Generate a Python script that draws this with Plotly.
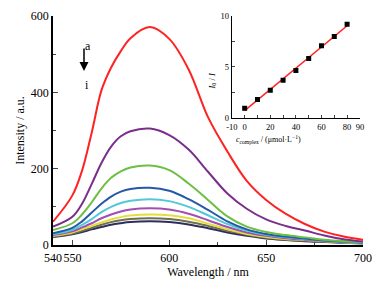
import plotly.graph_objects as go
import numpy as np

wavelength = [540, 550, 555, 560, 565, 570, 575, 580, 590, 600, 610, 620, 630, 640, 650, 660, 670, 680, 690, 700]
curve_a = [61, 130, 195, 295, 405, 465, 508, 542, 571, 540, 460, 335, 245, 168, 118, 82, 55, 35, 22, 14]
curve_b = [48, 74, 108, 160, 215, 258, 285, 298, 305, 288, 250, 192, 135, 95, 67, 50, 38, 25, 15, 9]
curve_c = [39, 57, 80, 112, 148, 176, 193, 203, 208, 196, 161, 118, 75, 48, 34, 26, 20, 14, 10, 7]
curve_d = [31, 45, 62, 85, 108, 127, 140, 147, 150, 142, 120, 92, 62, 41, 29, 22, 17, 12, 9, 6]
curve_e = [28, 40, 53, 68, 86, 100, 110, 116, 120, 115, 100, 78, 55, 38, 27, 20, 16, 12, 8, 6]
curve_f = [26, 36, 46, 57, 70, 80, 88, 93, 96, 93, 82, 65, 47, 33, 24, 18, 14, 11, 8, 6]
curve_g = [24, 33, 41, 50, 59, 67, 73, 77, 80, 78, 70, 56, 41, 29, 21, 16, 13, 10, 7, 5]
curve_h = [22, 30, 37, 45, 53, 60, 65, 68, 70, 68, 61, 50, 37, 27, 19, 14, 11, 9, 6, 5]
curve_i = [21, 28, 34, 41, 47, 53, 57, 60, 62, 60, 54, 44, 33, 24, 17, 13, 10, 8, 6, 4]
curve_colors = ["#FF2222", "#7A2E8C", "#6CBF45", "#2559A8", "#52C8D8",
                "#A24FB2", "#E4DE3C", "#6E6E50", "#2E2E5E"]

conc = [0, 10, 20, 30, 40, 50, 60, 70, 80]
ratio = [0.94, 1.81, 2.72, 3.69, 4.66, 5.83, 7.09, 8.0, 9.19]

x_ticks = [540, 550, 600, 650, 700]
y_ticks = [0, 200, 400, 600]
inset_x_ticks = [-10, 0, 20, 40, 60, 80, 90]
inset_y_ticks = [0, 5, 10]

FONT = "Liberation Serif"
fig = go.Figure()

curves = [curve_a, curve_b, curve_c, curve_d, curve_e, curve_f, curve_g, curve_h, curve_i]
for ys, col in reversed(list(zip(curves, curve_colors))):
    fig.add_trace(go.Scatter(x=wavelength, y=ys, mode="lines",
                             line=dict(color=col, width=2, shape="spline", smoothing=1.0),
                             showlegend=False, xaxis="x", yaxis="y"))

slope, icpt = np.polyfit(conc, ratio, 1)
fit_x = [conc[0], conc[-1]]
fit_y = [slope * v + icpt for v in fit_x]
fig.add_trace(go.Scatter(x=fit_x, y=fit_y, mode="lines", line=dict(color="#FF2222", width=1.5),
                         showlegend=False, xaxis="x2", yaxis="y2"))
fig.add_trace(go.Scatter(x=conc, y=ratio, mode="markers",
                         marker=dict(symbol="square", size=5, color="black"),
                         showlegend=False, xaxis="x2", yaxis="y2"))

fig.update_layout(
    width=385, height=288,
    margin=dict(l=53, r=22, t=16, b=43, autoexpand=False),
    paper_bgcolor="white", plot_bgcolor="white",
    font=dict(family=FONT, color="black", size=12),
    xaxis=dict(range=[540, 700], tickvals=x_ticks, tickangle=0, ticks="inside", ticklen=5, tickwidth=1.2,
               showline=True, linecolor="black", linewidth=1.5, showgrid=False, zeroline=False,
               automargin=False, ticklabelstandoff=1,
               minor=dict(tickvals=[575, 625, 675], ticks="inside", ticklen=3, tickwidth=1.2),
               tickfont=dict(size=12),
               title=dict(text="Wavelength / nm", font=dict(size=12), standoff=2)),
    yaxis=dict(range=[0, 600], tickvals=y_ticks, ticks="inside", ticklen=5, tickwidth=1.2,
               showline=True, linecolor="black", linewidth=1.5, showgrid=False, zeroline=False,
               automargin=False,
               minor=dict(tickvals=[100, 300, 500], ticks="inside", ticklen=3, tickwidth=1.2),
               tickfont=dict(size=12),
               title=dict(text="Intensity / a.u.", font=dict(size=12), standoff=4)),
    xaxis2=dict(domain=[0.577, 0.99], anchor="y2", range=[-10, 90], tickvals=inset_x_ticks,
                ticktext=["-10", "0", "20", "40", "60", "80", "90"], tickangle=0,
                ticks="inside", ticklen=3, tickwidth=1, showline=True, linecolor="black",
                linewidth=1.2, showgrid=False, zeroline=False, automargin=False,
                ticklabelstandoff=1,
                minor=dict(tickvals=[10, 30, 50, 70], ticks="inside", ticklen=3, tickwidth=1),
                tickfont=dict(size=8.5)),
    yaxis2=dict(domain=[0.555, 1.0], anchor="x2", range=[0, 10], tickvals=inset_y_ticks,
                ticks="inside", ticklen=3, tickwidth=1, showline=True, linecolor="black",
                linewidth=1.2, showgrid=False, zeroline=False, automargin=False,
                minor=dict(tickvals=[2.5, 7.5], ticks="inside", ticklen=3, tickwidth=1),
                tickfont=dict(size=8.5)),
)

def px(xp):
    return (xp - 53) / 310.0

def py(yp):
    return (245 - yp) / 229.0

fig.add_annotation(x=px(303), y=py(139), xref="paper", yref="paper", showarrow=False,
                   text="<i>c</i><sub>complex</sub> / (μmol·L<sup>−1</sup>)",
                   font=dict(size=8, family=FONT))
fig.add_annotation(x=px(212), y=py(71), xref="paper", yref="paper", showarrow=False,
                   text="<i>I</i><sub>0</sub> / <i>I</i>", textangle=-90,
                   font=dict(size=8.5, family=FONT))
fig.add_annotation(x=px(83), y=py(37), xref="paper", yref="paper", showarrow=False,
                   text="a", font=dict(size=12, family=FONT))
fig.add_annotation(x=px(83), y=py(76), xref="paper", yref="paper", showarrow=False,
                   text="i", font=dict(size=12, family=FONT))
fig.add_annotation(x=px(84), y=py(71), xref="x domain", yref="y domain", text="",
                   showarrow=True, axref="x domain", ayref="y domain", ax=px(84), ay=py(47),
                   arrowhead=2, arrowsize=1.2, arrowwidth=1.5, arrowcolor="black", standoff=0)

fig.write_html("out.html", config={"displayModeBar": False},
               post_script="document.body.style.margin='0';")
